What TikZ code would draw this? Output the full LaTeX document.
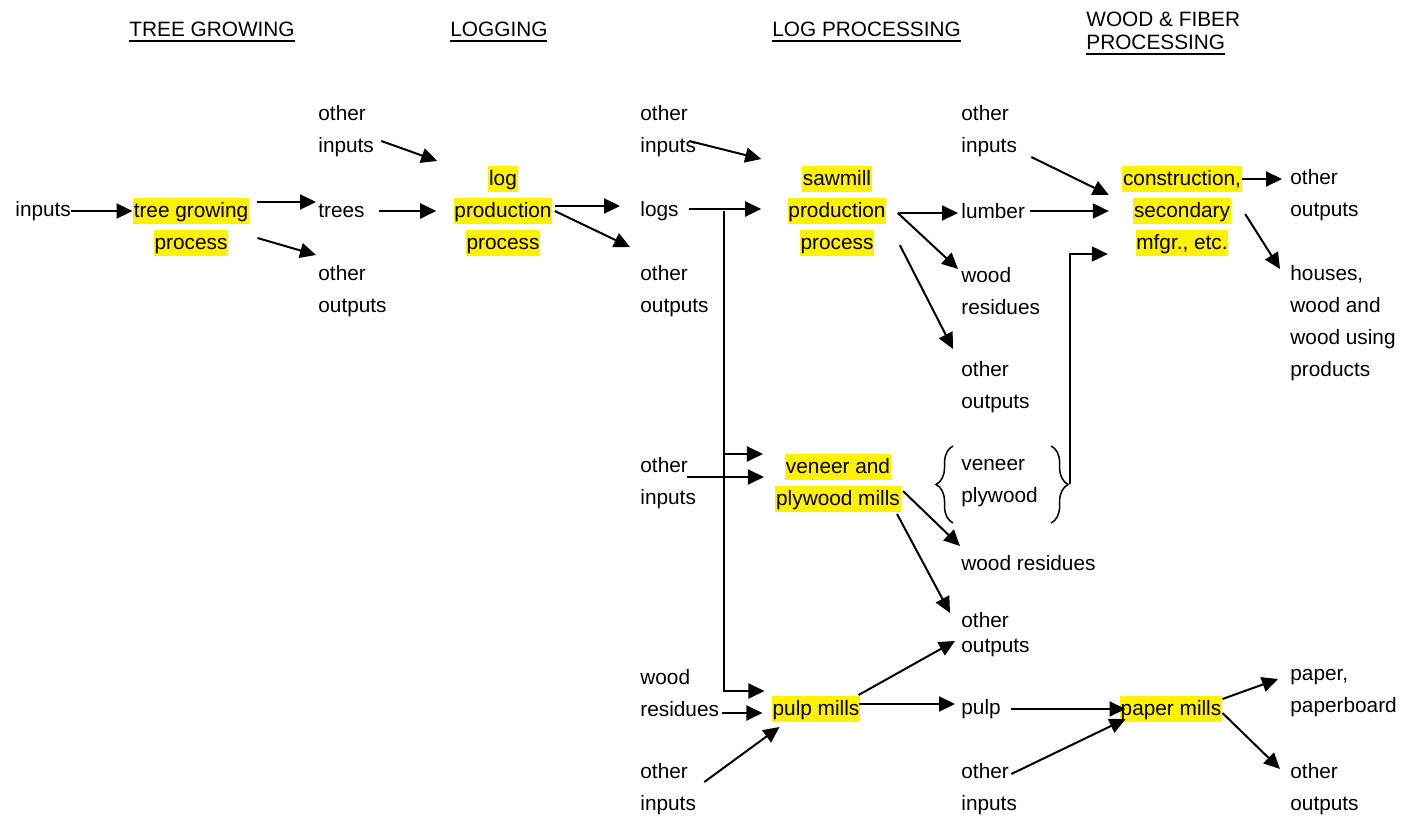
\documentclass[tikz,border=0pt]{standalone}
\usepackage{fontspec}
\setmainfont{Liberation Sans}
\usetikzlibrary{arrows.meta,decorations.pathreplacing}
\newcommand{\hilite}[1]{{\setlength{\fboxsep}{0pt}\colorbox{yellow}{\kern0.4pt\rule[-3pt]{0pt}{12.6pt}#1\kern0.4pt}}}
\newcommand{\hdul}[1]{\setbox0\hbox{#1}\rlap{\rule[-2.6pt]{\wd0}{1pt}}\box0}
\tikzset{
  lbl/.style={inner sep=0pt,align=left,anchor=west},
  proc/.style={inner sep=0pt,align=center},
  hd/.style={inner sep=0pt,anchor=base west},
  arr/.style={-{Triangle[length=8pt,width=7.5pt]},line width=1pt},
  brc/.style={decorate,decoration={brace,amplitude=8.5pt},line width=0.75pt}
}
\begin{document}
\begin{tikzpicture}[x=0.5pt,y=-0.5pt,font=\fontsize{10.4}{16}\selectfont]

\useasboundingbox (0,-1) rectangle (1412,817);

% headings
\node[hd] (hdtree) at (129,36) {\hdul{TREE GROWING}};
\node[hd] (hdlog) at (450,36) {\hdul{LOGGING}};
\node[hd] (hdproc) at (772,36) {\hdul{LOG PROCESSING}};
\node[
  inner sep=0pt,
  align=left,
  anchor=north west,
  font=\fontsize{10.4}{11.5}\selectfont
] (hdwood) at (1086,11) {WOOD \& FIBER\\\hdul{PROCESSING}};

% tree growing
\node[lbl] (inp) at (15,210) {inputs};
\node[proc] (tgp) at (191,226) {\hilite{tree growing}\\\hilite{process}};
\node[lbl] (oin1) at (318,130) {other\\inputs};
\node[lbl] (trees) at (318,210) {trees};
\node[lbl] (oout1) at (318,290) {other\\outputs};

% logging
\node[proc] (lpp) at (503,210) {\hilite{log}\\\hilite{production}\\\hilite{process}};
\node[lbl] (oin2) at (640,130) {other\\inputs};
\node[lbl] (logs) at (640,210) {logs};
\node[lbl] (oout2) at (640,290) {other\\outputs};

% log processing
\node[proc] (saw) at (837,210) {\hilite{sawmill}\\\hilite{production}\\\hilite{process}};
\node[lbl] (oin3) at (961,130) {other\\inputs};
\node[lbl] (lumber) at (961,210) {lumber};
\node[lbl] (wres1) at (961,290) {wood\\residues};
\node[lbl] (oout3) at (961,386) {other\\outputs};

\node[lbl] (oin4) at (640,482) {other\\inputs};
\node[proc] (vpm) at (838,482) {\hilite{veneer and}\\\hilite{plywood mills}};
\node[lbl] (vp) at (961,482) {veneer\\plywood};
\node[lbl] (wres2) at (961,562) {wood residues};
\node[lbl] (oout5) at (961,634) {other\\[-3.5pt]outputs};

\node[lbl] (wres3) at (640,692) {wood\\residues};
\node[proc] (pm) at (816,708) {\hilite{pulp mills}};
\node[lbl] (oin5) at (640,788) {other\\inputs};
\node[lbl] (pulp) at (961,708) {pulp};
\node[lbl] (oin6) at (961,788) {other\\inputs};

% wood & fiber processing
\node[proc] (con) at (1182,210) {\hilite{construction,}\\\hilite{secondary}\\\hilite{mfgr., etc.}};
\node[lbl] (oout4) at (1290,194) {other\\outputs};
\node[lbl] (houses) at (1290,322) {houses,\\wood and\\wood using\\products};
\node[proc] (papm) at (1171,708) {\hilite{paper mills}};
\node[lbl] (paper) at (1290,692) {paper,\\paperboard};
\node[lbl] (oout6) at (1290,788) {other\\outputs};

% flows
\draw[arr] (inp.east) -- (inp.east -| tgp.west);
\draw[arr] ([shift={(8,-25)}]tgp.east) -- ([shift={(-2,-9)}]trees.west);
\draw[arr] ([shift={(8,11)}]tgp.east) -- ([shift={(-2,-36)}]oout1.west);
\draw[arr] ([shift={(7,10)}]oin1.east) -- ([shift={(-16,-50)}]lpp.west);
\draw[arr] ([shift={(14,0)}]trees.east) -- ([shift={(-17,0)}]lpp.west);
\draw[arr] ([shift={(2,-5)}]lpp.east) -- ([shift={(-20,-5)}]logs.west);
\draw[arr] ([shift={(2,0)}]lpp.east) -- ([shift={(-10,-44)}]oout2.west);

\draw[arr] ([shift={(-7,10)}]oin2.east) -- ([shift={(-26,-52)}]saw.west);
\draw[arr] ([shift={(10,-2)}]logs.east) -- ([shift={(-26,-2)}]saw.west);
\coordinate (split) at ([shift={(45,0)}]logs.east);
\draw[arr] (split) |- ([shift={(-7,-18)}]pm.west);
\draw[arr] (split |- vpm.north west) -- ([shift={(-12,0)}]vpm.north west);
\draw[arr] ([shift={(-9,-6)}]oin4.east) -- ([shift={(-11,-6)}]vpm.west);

\draw[arr] ([shift={(11,2)}]saw.east) -- ([shift={(-3,2)}]lumber.west);
\draw[arr] ([shift={(11,2)}]saw.east) -- ([shift={(-3,-22)}]wres1.west);
\draw[arr] ([shift={(13,34)}]saw.east) -- ([shift={(-8,-38)}]oout3.west);
\draw[arr] ([shift={(14,26)}]oin3.east) -- ([shift={(-13,-16)}]con.west);
\draw[arr] ([shift={(5,0)}]lumber.east) -- ([shift={(-13,0)}]con.west);

\draw[brc] ([shift={(-8,40)}]vp.west) -- ([shift={(-8,-37)}]vp.west);
\draw[brc] ([shift={(13,-37)}]vp.east) -- ([shift={(13,40)}]vp.east);
\coordinate (vptip) at ([shift={(32,1)}]vp.east);
\draw[arr] (vptip) |- ([shift={(-14,43)}]con.west);

\draw[arr] ([shift={(0,-32)}]con.east) -- ([shift={(-8,-16)}]oout4.west);
\draw[arr] ([shift={(3,3)}]con.east) -- ([shift={(-10,-54)}]houses.west);

\draw[arr] ([shift={(2,8)}]vpm.east) -- ([shift={(-1,-17)}]wres2.west);
\draw[arr] ([shift={(-4,31)}]vpm.east) -- ([shift={(-11,-22)}]oout5.west);

\draw[arr] ([shift={(-2,-14)}]pm.east) -- ([shift={(-6,6)}]oout5.west);
\draw[arr] ([shift={(-2,-5)}]pm.east) -- ([shift={(-6,-5)}]pulp.west);
\draw[arr] ([shift={(3,20)}]wres3.east) -- ([shift={(-9,4)}]pm.west);
\draw[arr] ([shift={(8,-7)}]oin5.east) -- ([shift={(8,18)}]pm.west);

\draw[arr] ([shift={(10,0)}]pulp.east) -- ([shift={(6,0)}]papm.west);
\draw[arr] ([shift={(-6,-15)}]oin6.east) -- ([shift={(6,10)}]papm.west);
\draw[arr] ([shift={(0,-10)}]papm.east) -- ([shift={(-12,-14)}]paper.west);
\draw[arr] ([shift={(0,4)}]papm.east) -- ([shift={(-10,-20)}]oout6.west);

\end{tikzpicture}
\end{document}
